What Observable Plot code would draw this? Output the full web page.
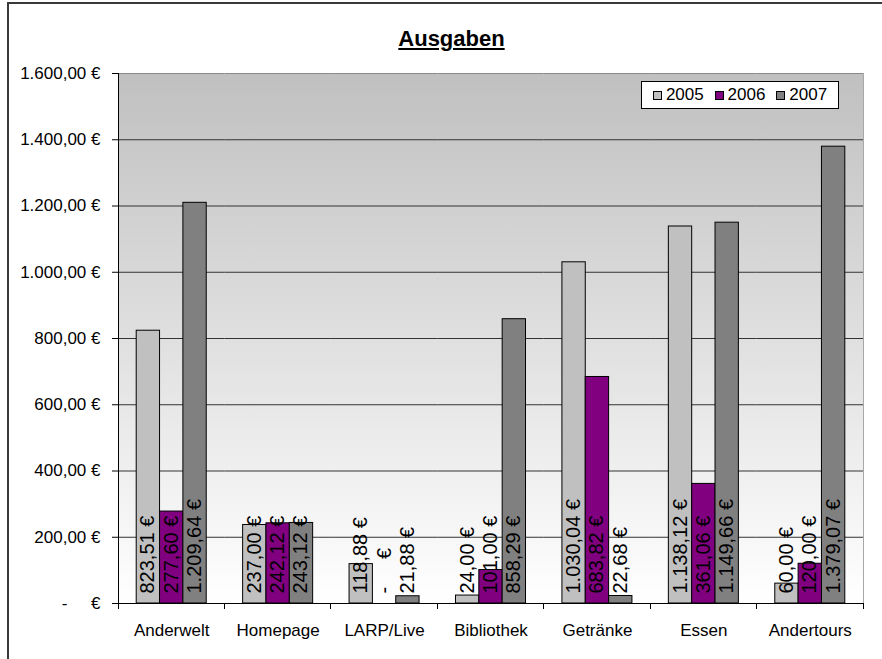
<!DOCTYPE html>
<html><head><meta charset="utf-8">
<script src="https://cdn.jsdelivr.net/npm/d3@7"></script>
<script src="https://cdn.jsdelivr.net/npm/@observablehq/plot@0.6"></script>
<style>
html,body{margin:0;padding:0;background:#fff;overflow:hidden;}
#wrap{position:relative;width:882px;height:659px;font-family:'Liberation Sans',Arial,sans-serif;overflow:hidden;}
#border{position:absolute;left:7px;top:2px;width:1000px;height:1000px;border-left:2px solid #3a3a3a;border-top:2px solid #3a3a3a;}
#chart{position:absolute;left:0;top:0;}
#title{position:absolute;left:0;width:903px;top:28px;text-align:center;font-weight:bold;font-size:22px;line-height:22px;text-decoration:underline;color:#000;}
#legend{position:absolute;left:641px;top:81px;width:196px;height:26px;border:1px solid #000;background:#fff;display:flex;align-items:center;justify-content:space-evenly;font-size:17px;color:#000;}
.item{display:flex;align-items:center;}
.sw{width:7px;height:7px;border:1px solid #000;margin-right:4px;}
</style>
</head><body>
<div id="wrap">
  <div id="border"></div>
  <div id="chart"></div>
  <div id="title">Ausgaben</div>
  <div id="legend"></div>
</div>
<script>
const categories = ["Anderwelt", "Homepage", "LARP/Live", "Bibliothek", "Getränke", "Essen", "Andertours"];
const years = ["2005", "2006", "2007"];
const values2005 = [823.51, 237.00, 118.88, 24.00, 1030.04, 1138.12, 60.00];
const values2006 = [277.60, 242.12, 0, 101.00, 683.82, 361.06, 120.00];
const values2007 = [1209.64, 243.12, 21.88, 858.29, 22.68, 1149.66, 1379.07];
const yTicks = [0, 200, 400, 600, 800, 1000, 1200, 1400, 1600];
const yearColors = ["#C0C0C0", "#800080", "#808080"];
const titleText = "Ausgaben";

const series = {"2005": values2005, "2006": values2006, "2007": values2007};
const rows = years.flatMap(y => categories.map((c, i) => ({category: c, year: y, value: series[y][i]})));

const loc = d3.formatLocale({decimal: ",", thousands: ".", grouping: [3], currency: ["", " €"]});
const fmtNum = loc.format(",.2f");
const euro = v => v === 0 ? "-\u00a0\u00a0\u00a0\u00a0\u00a0€" : fmtNum(v) + "\u00a0€";

document.getElementById("title").textContent = titleText;

const plot = Plot.plot({
  width: 882, height: 659,
  marginTop: 73, marginRight: 19, marginBottom: 56, marginLeft: 118,
  style: {fontFamily: "'Liberation Sans', Arial, sans-serif", fontSize: "17px", color: "#000", background: "transparent", overflow: "visible"},
  fx: {domain: categories, padding: 0, round: false, label: null, axis: "bottom", tickSize: 0, tickPadding: 20},
  x: {domain: years, paddingInner: 0, paddingOuter: 0.78, round: false, axis: null},
  y: {domain: [0, 1600], ticks: yTicks, tickFormat: euro, tickSize: 6, tickPadding: 12, label: null, axis: "left"},
  color: {domain: years, range: yearColors},
  marks: [
    Plot.frame({fill: "url(#plotBg)", stroke: "none", shapeRendering: "crispEdges"}),
    Plot.ruleY(yTicks.slice(1, -1), {stroke: "#333", strokeWidth: 1}),
    Plot.ruleY([1600], {stroke: "#8a8a8a"}),
    Plot.barY(rows, {fx: "category", x: "year", y: "value", fill: "year", stroke: "#000", strokeWidth: 1, inset: 0}),
    Plot.ruleY([0], {stroke: "#000"}),
    Plot.text(rows, {fx: "category", x: "year", frameAnchor: "bottom", text: d => euro(d.value), rotate: -90, textAnchor: "start", dx: 6, dy: -10, fontSize: 20, fill: "#000"})
  ]
});

const svg = d3.select(plot);
const defs = svg.insert("defs", ":first-child");
const grad = defs.append("linearGradient").attr("id", "plotBg").attr("x1", 0).attr("y1", 0).attr("x2", 0).attr("y2", 1);
grad.append("stop").attr("offset", "0%").attr("stop-color", "#C0C0C0");
grad.append("stop").attr("offset", "100%").attr("stop-color", "#FFFFFF");

const fx = plot.scale("fx"), ys = plot.scale("y");
const bw = fx.bandwidth;
const bounds = categories.map(c => fx.apply(c)).concat([fx.apply(categories[categories.length - 1]) + bw]);
const y0 = ys.apply(0), y1 = ys.apply(1600);
const deco = svg.append("g").attr("shape-rendering", "crispEdges");
deco.append("line").attr("x1", bounds[bounds.length - 1]).attr("x2", bounds[bounds.length - 1]).attr("y1", y1).attr("y2", y0).attr("stroke", "#a8a8a8");
deco.append("line").attr("x1", bounds[0]).attr("x2", bounds[0]).attr("y1", y1).attr("y2", y0).attr("stroke", "#000");
deco.selectAll("line.tk").data(bounds).join("line").attr("class", "tk")
  .attr("x1", d => d).attr("x2", d => d).attr("y1", y0).attr("y2", y0 + 6).attr("stroke", "#000");

document.getElementById("chart").appendChild(plot);

const legend = d3.select("#legend");
years.forEach((y, i) => {
  const it = legend.append("div").attr("class", "item");
  it.append("div").attr("class", "sw").style("background", yearColors[i]);
  it.append("span").text(y);
});
</script>
</body></html>
